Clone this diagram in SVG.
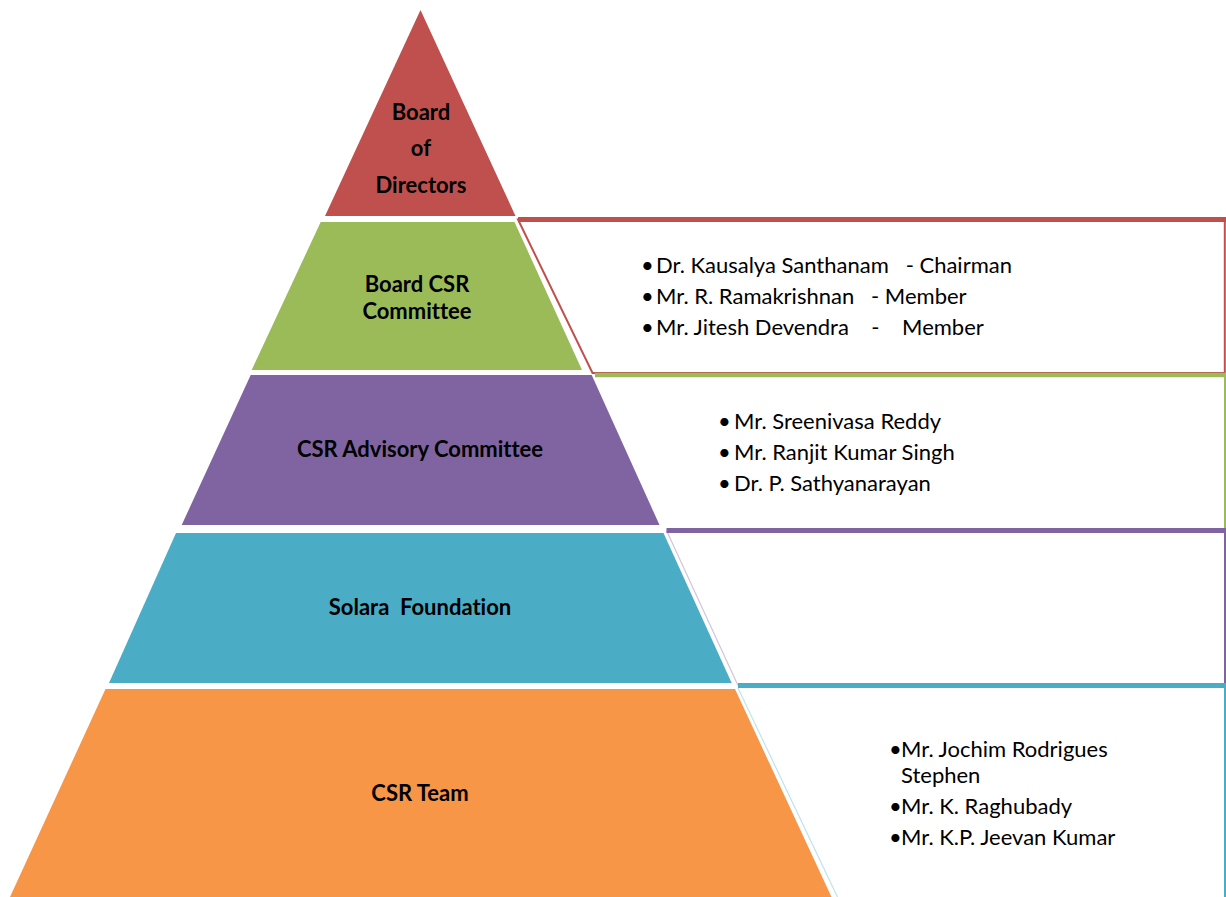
<svg xmlns="http://www.w3.org/2000/svg" width="1226" height="897" viewBox="0 0 1226 897">
  <style>
    .lbl { font-family: Lato, "Open Sans", "Liberation Sans", sans-serif; font-weight: bold; font-size: 22px; fill: #000; text-anchor: middle; font-variant-ligatures: none; }
    .item { font-family: Lato, "Open Sans", "Liberation Sans", sans-serif; font-size: 22px; fill: #000; white-space: pre; font-variant-ligatures: none; }
    .bar { stroke-width: 5; fill: none; }
    .edge { stroke-width: 2; fill: none; }
    .faint { stroke-width: 1.2; fill: none; }
  </style>
  <rect width="1226" height="897" fill="#ffffff"/>

  <!-- pyramid tiers -->
  <g id="tier-board">
    <polygon points="420.5,10 515.5,216 325,216" fill="#C0504D"/>
    <text class="lbl" x="421" y="119.5">Board</text>
    <text class="lbl" x="421" y="156">of</text>
    <text class="lbl" x="421" y="192.5">Directors</text>
  </g>
  <g id="tier-board-csr">
    <polygon points="320.7,222 514.5,222 582,370 251.7,370" fill="#9BBB59"/>
    <text class="lbl" x="417" y="291.5">Board CSR</text>
    <text class="lbl" x="417" y="318.5">Committee</text>
  </g>
  <g id="tier-advisory">
    <polygon points="250.7,375 591.7,375 659.5,525 181.7,525" fill="#8064A2"/>
    <text class="lbl" x="420" y="457">CSR Advisory Committee</text>
  </g>
  <g id="tier-foundation">
    <polygon points="176,533 663.5,533 731.7,683 109,683" fill="#4BACC6"/>
    <text class="lbl" x="420" y="615" style="white-space:pre">Solara  Foundation</text>
  </g>
  <g id="tier-team">
    <polygon points="105.5,689 735,689 831.5,897 10,897" fill="#F79646"/>
    <text class="lbl" x="420" y="801">CSR Team</text>
  </g>

  <!-- member boxes beside the tiers -->
  <g id="box-board-csr">
    <polygon points="518,219.5 1224.8,219.5 1224.8,373 592.5,373" fill="#ffffff" stroke="#C0504D" class="edge"/>
    <line x1="518" y1="219.5" x2="1226" y2="219.5" stroke="#C0504D" class="bar"/>
    <text class="item" y="273"><tspan x="641">•</tspan><tspan x="656">Dr. Kausalya Santhanam   - Chairman</tspan></text>
    <text class="item" y="304"><tspan x="641">•</tspan><tspan x="656">Mr. R. Ramakrishnan   - Member</tspan></text>
    <text class="item" y="334.5"><tspan x="641">•</tspan><tspan x="656">Mr. Jitesh Devendra    -    Member</tspan></text>
  </g>
  <g id="box-advisory">
    <line x1="1225" y1="375" x2="1225" y2="530" stroke="#9BBB59" class="edge"/>
    <line x1="595" y1="375" x2="1226" y2="375" stroke="#9BBB59" stroke-width="4.5"/>
    <text class="item" y="429"><tspan x="718">•</tspan><tspan x="734">Mr. Sreenivasa Reddy</tspan></text>
    <text class="item" y="460"><tspan x="718">•</tspan><tspan x="734">Mr. Ranjit Kumar Singh</tspan></text>
    <text class="item" y="491"><tspan x="718">•</tspan><tspan x="734">Dr. P. Sathyanarayan</tspan></text>
  </g>
  <g id="box-foundation">
    <line x1="666.5" y1="530.5" x2="738" y2="685.5" stroke="#CFC5E0" class="faint"/>
    <line x1="1225" y1="530.5" x2="1225" y2="686" stroke="#8064A2" class="edge"/>
    <line x1="666.5" y1="530.5" x2="1226" y2="530.5" stroke="#8064A2" class="bar"/>
  </g>
  <g id="box-team">
    <line x1="738" y1="688" x2="837.5" y2="897" stroke="#BFE2EC" class="faint"/>
    <line x1="1225" y1="686" x2="1225" y2="897" stroke="#4BACC6" class="edge"/>
    <line x1="738" y1="685.5" x2="1226" y2="685.5" stroke="#4BACC6" class="bar"/>
    <text class="item" y="757"><tspan x="889">•</tspan><tspan x="901">Mr. Jochim Rodrigues</tspan></text>
    <text class="item" x="901" y="783">Stephen</text>
    <text class="item" y="814"><tspan x="889">•</tspan><tspan x="901">Mr. K. Raghubady</tspan></text>
    <text class="item" y="845"><tspan x="889">•</tspan><tspan x="901">Mr. K.P. Jeevan Kumar</tspan></text>
  </g>
</svg>
